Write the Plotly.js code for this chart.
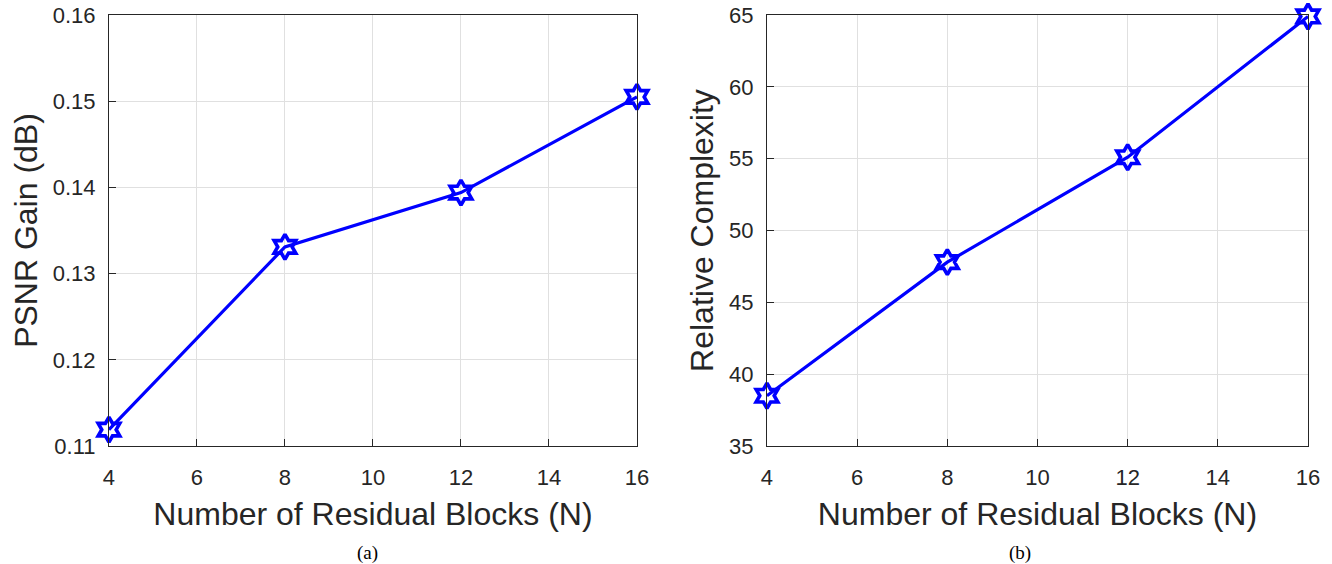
<!DOCTYPE html>
<html><head><meta charset="utf-8">
<script src="https://cdn.plot.ly/plotly-3.0.1.min.js"></script>
<style>html,body{margin:0;padding:0;background:#fff}</style>
</head><body>
<div id="chart" style="width:1332px;height:564px"></div>
<script>
const blocks = [4, 8, 12, 16];
const psnrGain = [0.1119, 0.1331, 0.1394, 0.1505];
const complexity = [38.5, 47.8, 55.1, 64.9];
const xTicks = [4, 6, 8, 10, 12, 14, 16];
const psnrTicks = [0.11, 0.12, 0.13, 0.14, 0.15, 0.16];
const cxTicks = [35, 40, 45, 50, 55, 60, 65];

const lineStyle = {color: '#0000ff', width: 3.2};
const markerStyle = {symbol: 'hexagram-open', size: 19, color: '#0000ff', line: {color: '#0000ff', width: 3.6}};

const traces = [
  {x: blocks, y: psnrGain, xaxis: 'x', yaxis: 'y', mode: 'lines+markers', line: lineStyle, marker: markerStyle, cliponaxis: false},
  {x: blocks, y: complexity, xaxis: 'x2', yaxis: 'y2', mode: 'lines+markers', line: lineStyle, marker: markerStyle, cliponaxis: false}
];

const tickFont = {family: 'Liberation Sans, Arial, sans-serif', size: 22, color: '#262626'};
const titleFont = {family: 'Liberation Sans, Arial, sans-serif', size: 32, color: '#262626'};
function ax(extra) {
  return Object.assign({
    showline: true, mirror: true, linecolor: '#262626', linewidth: 1,
    ticks: 'inside', ticklen: 7, tickcolor: '#262626', tickwidth: 1,
    showgrid: true, gridcolor: '#e0e0e0', gridwidth: 1,
    zeroline: false, tickfont: tickFont, fixedrange: true
  }, extra);
}

const layout = {
  width: 1332, height: 564, showlegend: false,
  paper_bgcolor: '#fff', plot_bgcolor: '#fff',
  margin: {l: 0, r: 0, t: 0, b: 0},
  xaxis: ax({domain: [0.0818, 0.4782], range: [4, 16], tickvals: xTicks, anchor: 'y', ticklabelstandoff: 12,
    title: {text: 'Number of Residual Blocks (N)', font: titleFont, standoff: 13}}),
  yaxis: ax({domain: [0.2092, 0.9734], range: [0.11, 0.16], tickvals: psnrTicks, tickformat: '.2f', anchor: 'x', ticklabelstandoff: 8,
    title: {text: 'PSNR Gain (dB)', font: titleFont, standoff: 5}}),
  xaxis2: ax({domain: [0.5758, 0.982], range: [4, 16], tickvals: xTicks, anchor: 'y2', ticklabelstandoff: 12,
    title: {text: 'Number of Residual Blocks (N)', font: titleFont, standoff: 13}}),
  yaxis2: ax({domain: [0.2092, 0.9734], range: [35, 65], tickvals: cxTicks, anchor: 'x2', ticklabelstandoff: 8,
    title: {text: 'Relative Complexity', font: titleFont, standoff: 5}}),
  annotations: [
    {text: '(a)', xref: 'paper', yref: 'paper', x: 355 / 1332, y: 1 - 553 / 564, showarrow: false, yanchor: 'middle',
     font: {family: 'Liberation Serif, Times New Roman, serif', size: 19, color: '#000'}},
    {text: '(b)', xref: 'paper', yref: 'paper', x: 1033 / 1332, y: 1 - 553 / 564, showarrow: false, yanchor: 'middle',
     font: {family: 'Liberation Serif, Times New Roman, serif', size: 19, color: '#000'}}
  ]
};

Plotly.newPlot('chart', traces, layout, {displayModeBar: false, staticPlot: true});
</script>
</body></html>
